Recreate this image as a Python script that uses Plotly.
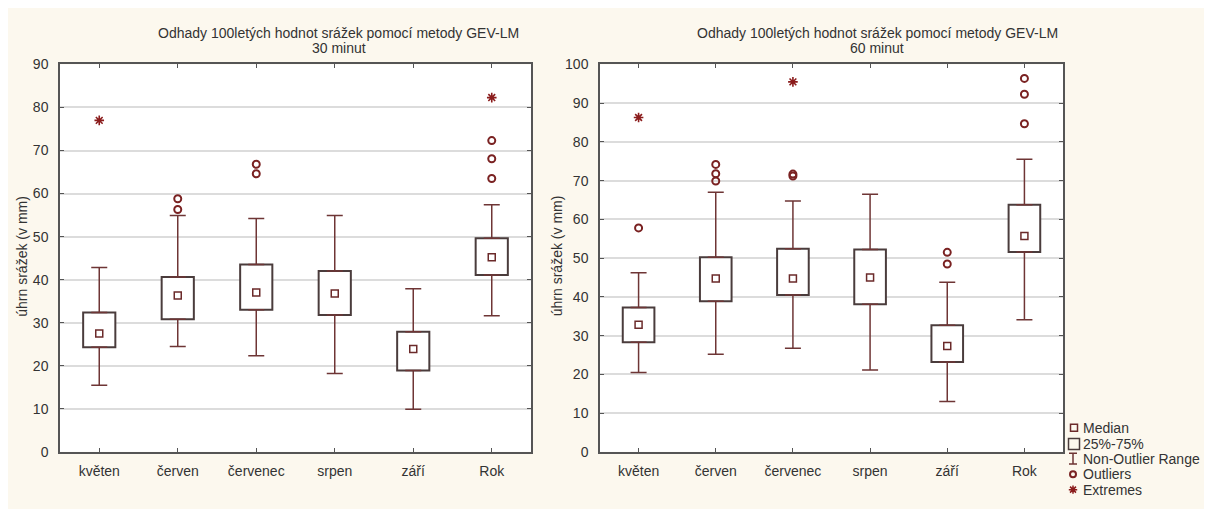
import plotly.graph_objects as go

# ---------------- data ----------------
categories = ["květen", "červen", "červenec", "srpen", "září", "Rok"]

# 30 minut
q1_30 = [24.3, 30.8, 33.0, 31.8, 18.9, 41.1]
med_30 = [27.5, 36.3, 37.0, 36.8, 23.9, 45.2]
q3_30 = [32.4, 40.6, 43.5, 42.0, 27.9, 49.6]
lo_30 = [15.5, 24.5, 22.3, 18.2, 9.9, 31.6]
hi_30 = [42.8, 54.9, 54.2, 54.9, 37.9, 57.4]
out_x_30 = ["červen", "červen", "červenec", "červenec", "Rok", "Rok", "Rok"]
out_y_30 = [58.8, 56.3, 66.8, 64.6, 72.3, 68.1, 63.5]
ext_x_30 = ["květen", "Rok"]
ext_y_30 = [77.0, 82.3]

# 60 minut
q1_60 = [28.3, 38.9, 40.5, 38.1, 23.2, 51.6]
med_60 = [32.8, 44.75, 44.75, 45.0, 27.3, 55.7]
q3_60 = [37.25, 50.2, 52.4, 52.2, 32.7, 63.75]
lo_60 = [20.5, 25.2, 26.75, 21.1, 13.0, 34.1]
hi_60 = [46.2, 67.0, 64.75, 66.5, 43.75, 75.5]
out_x_60 = ["květen", "červen", "červen", "červen", "červenec", "červenec",
            "září", "září", "Rok", "Rok", "Rok"]
out_y_60 = [57.8, 74.2, 71.8, 69.9, 71.7, 71.2, 51.5, 48.5, 96.4, 92.3, 84.7]
ext_x_60 = ["květen", "červenec"]
ext_y_60 = [86.3, 95.5]

title_line1 = "Odhady 100letých hodnot srážek pomocí metody GEV-LM"
subtitles = ["30 minut", "60 minut"]
y_title = "úhrn srážek (v mm)"
legend_labels = ["Median", "25%-75%", "Non-Outlier Range", "Outliers", "Extremes"]

# ---------------- styles ----------------
FONT = "Liberation Sans, Arial, sans-serif"
TXT = "#333333"
BOX_LINE = "#4a3c3c"
WHISK = "#6e3535"
MED = "#6b2a2a"
OUT = "#7a2222"
EXT = "#8b1c1c"
BG = "#fcf8ee"

# the page places the figure at an 8 px body margin
W, H = 1204, 509

fig = go.Figure()


def add_panel(xa, ya, q1, med, q3, lo, hi, ox, oy, ex, ey):
    # box (25%-75%)
    fig.add_trace(go.Bar(
        x=categories, y=[b - a for a, b in zip(q1, q3)], base=q1,
        width=0.41, marker=dict(color="white", line=dict(color=BOX_LINE, width=2)),
        xaxis=xa, yaxis=ya, showlegend=False, hoverinfo="skip"))
    # upper whisker
    fig.add_trace(go.Scatter(
        x=categories, y=q3, mode="markers",
        marker=dict(size=1, color="rgba(0,0,0,0)"),
        error_y=dict(type="data", symmetric=False,
                     array=[h - b for h, b in zip(hi, q3)],
                     arrayminus=[0] * len(q3), width=8, thickness=1.5, color=WHISK),
        xaxis=xa, yaxis=ya, showlegend=False, hoverinfo="skip"))
    # lower whisker
    fig.add_trace(go.Scatter(
        x=categories, y=q1, mode="markers",
        marker=dict(size=1, color="rgba(0,0,0,0)"),
        error_y=dict(type="data", symmetric=False,
                     array=[0] * len(q1),
                     arrayminus=[a - l for a, l in zip(q1, lo)], width=8, thickness=1.5, color=WHISK),
        xaxis=xa, yaxis=ya, showlegend=False, hoverinfo="skip"))
    # median
    fig.add_trace(go.Scatter(
        x=categories, y=med, mode="markers",
        marker=dict(symbol="square-open", size=7, color=MED, line=dict(width=1.5, color=MED)),
        xaxis=xa, yaxis=ya, showlegend=False))
    # outliers
    fig.add_trace(go.Scatter(
        x=ox, y=oy, mode="markers",
        marker=dict(symbol="circle-open", size=7, color=OUT, line=dict(width=2, color=OUT)),
        xaxis=xa, yaxis=ya, showlegend=False))
    # extremes
    fig.add_trace(go.Scatter(
        x=ex, y=ey, mode="markers",
        marker=dict(symbol="asterisk-open", size=8, color=EXT, line=dict(width=1.6, color=EXT)),
        xaxis=xa, yaxis=ya, showlegend=False))


add_panel("x", "y", q1_30, med_30, q3_30, lo_30, hi_30, out_x_30, out_y_30, ext_x_30, ext_y_30)
add_panel("x2", "y2", q1_60, med_60, q3_60, lo_60, hi_60, out_x_60, out_y_60, ext_x_60, ext_y_60)

# ---------------- legend (custom, pixel-based auxiliary axes) ----------------
LX0, LX1, LY0, LY1 = 1056, 1196, 407, 501
leg_x = 1066
leg_y = [425, 442, 457, 473, 489]
fig.add_trace(go.Scatter(
    x=[leg_x], y=[leg_y[0]], mode="markers",
    marker=dict(symbol="square-open", size=7, color=MED, line=dict(width=1.5, color=MED)),
    xaxis="x3", yaxis="y3", showlegend=False, hoverinfo="skip"))
fig.add_trace(go.Scatter(
    x=[leg_x], y=[leg_y[1]], mode="markers",
    marker=dict(symbol="square-open", size=11, color=BOX_LINE, line=dict(width=1.5, color=BOX_LINE)),
    xaxis="x3", yaxis="y3", showlegend=False, hoverinfo="skip"))
fig.add_trace(go.Scatter(
    x=[leg_x - 1], y=[leg_y[2]], mode="markers",
    marker=dict(size=1, color="rgba(0,0,0,0)"),
    error_y=dict(type="constant", value=5.5, width=4, thickness=1.5, color=WHISK),
    xaxis="x3", yaxis="y3", showlegend=False, hoverinfo="skip"))
fig.add_trace(go.Scatter(
    x=[leg_x - 1], y=[leg_y[3]], mode="markers",
    marker=dict(symbol="circle-open", size=6, color=OUT, line=dict(width=2, color=OUT)),
    xaxis="x3", yaxis="y3", showlegend=False, hoverinfo="skip"))
fig.add_trace(go.Scatter(
    x=[leg_x - 1], y=[leg_y[4]], mode="markers",
    marker=dict(symbol="asterisk-open", size=7, color=EXT, line=dict(width=1.5, color=EXT)),
    xaxis="x3", yaxis="y3", showlegend=False, hoverinfo="skip"))

annotations = []
for lab, yy in zip(legend_labels, leg_y):
    annotations.append(dict(x=1073 / W, y=1 - yy / H, xref="paper", yref="paper",
                            text=lab, showarrow=False, xanchor="left", yanchor="middle",
                            font=dict(family=FONT, size=14, color=TXT)))

# titles
for cx, sub in zip([330.7, 869], subtitles):
    annotations.append(dict(x=cx / W, y=1 - 18 / H, xref="paper", yref="paper", text=title_line1,
                            showarrow=False, xanchor="center", yanchor="middle",
                            font=dict(family=FONT, size=14, color=TXT)))
    annotations.append(dict(x=cx / W, y=1 - 33 / H, xref="paper", yref="paper", text=sub,
                            showarrow=False, xanchor="center", yanchor="middle",
                            font=dict(family=FONT, size=14, color=TXT)))

# y-axis titles
for cx in [14.5, 549]:
    annotations.append(dict(x=cx / W, y=1 - 248 / H, xref="paper", yref="paper", text=y_title,
                            showarrow=False, xanchor="center", yanchor="middle", textangle=-90,
                            font=dict(family=FONT, size=14, color=TXT)))

# white plot areas (background stays cream elsewhere)
shapes = []
for xr, yr in [("x domain", "y domain"), ("x2 domain", "y2 domain")]:
    shapes.append(dict(type="rect", xref=xr, yref=yr, x0=0, x1=1, y0=0, y1=1,
                       fillcolor="white", line=dict(width=0), layer="below"))

ydom = [1 - 450 / H, 1 - 50 / H]
axis_common = dict(showline=True, linecolor="#555555", linewidth=1.5, mirror="ticks",
                   ticks="inside", ticklen=4, tickcolor="#555555", tickwidth=1,
                   tickfont=dict(family=FONT, size=14, color=TXT), zeroline=False)

fig.update_layout(
    width=W, height=H,
    margin=dict(l=0, r=0, t=0, b=0),
    paper_bgcolor=BG, plot_bgcolor=BG,
    showlegend=False, barmode="overlay",
    annotations=annotations, shapes=shapes,
    xaxis=dict(domain=[52 / W, 523 / W], type="category", categoryorder="array",
               categoryarray=categories, range=[-0.5, 5.5], showgrid=False,
               ticklabelstandoff=6, anchor="y", **axis_common),
    yaxis=dict(domain=ydom, range=[0, 90], dtick=10, showgrid=True, gridcolor="#dcdcdc",
               gridwidth=1.5, ticklabelstandoff=7, anchor="x", **axis_common),
    xaxis2=dict(domain=[592 / W, 1055 / W], type="category", categoryorder="array",
                categoryarray=categories, range=[-0.5, 5.5], showgrid=False,
                ticklabelstandoff=6, anchor="y2", **axis_common),
    yaxis2=dict(domain=ydom, range=[0, 100], dtick=10, showgrid=True, gridcolor="#dcdcdc",
                gridwidth=1.5, ticklabelstandoff=7, anchor="x2", **axis_common),
    xaxis3=dict(domain=[LX0 / W, LX1 / W], range=[LX0, LX1], visible=False,
                anchor="y3", fixedrange=True, showgrid=False, zeroline=False),
    yaxis3=dict(domain=[1 - LY1 / H, 1 - LY0 / H], range=[LY1, LY0], visible=False,
                anchor="x3", fixedrange=True, showgrid=False, zeroline=False),
)

fig.write_html("out.html")
